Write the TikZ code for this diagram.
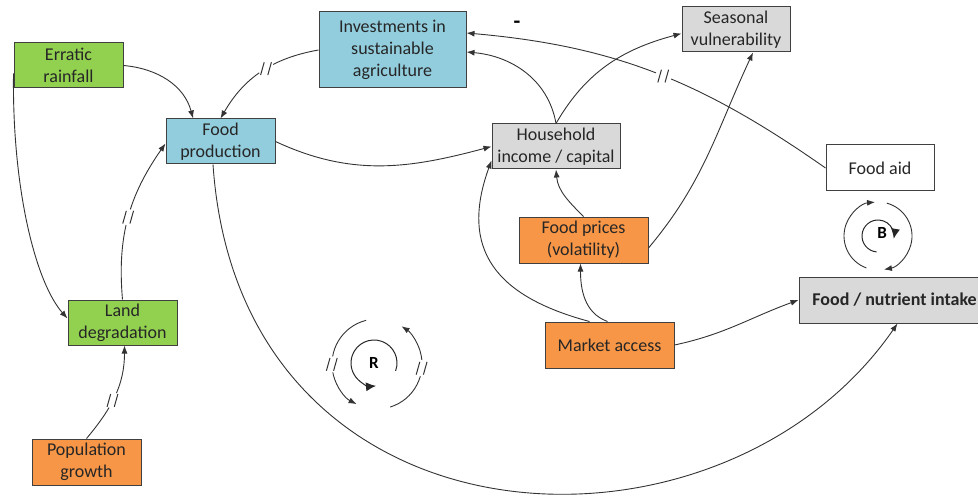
\documentclass[tikz,border=0pt]{standalone}
\usepackage{fontspec}
\setmainfont{Carlito}
\usetikzlibrary{arrows.meta,decorations.markings}
\definecolor{landgreen}{RGB}{146,208,80}
\definecolor{agriblue}{RGB}{146,205,221}
\definecolor{hhgrey}{RGB}{217,217,217}
\definecolor{mktorange}{RGB}{247,150,70}
\tikzstyle{factor}=[
	rectangle,
	draw=black!75,
	line width=0.5pt,
	align=center,
	inner sep=0pt,
	text=black!85,
	font=\fontsize{9}{11}\selectfont
]
\tikzstyle{link}=[
	-{Latex[length=4pt,width=3pt]},
	draw=black!80,
	line width=0.45pt
]
\tikzstyle{innerloop}=[
	-{Latex[length=5pt,width=4.5pt]},
	draw=black!85,
	line width=0.5pt
]
\tikzstyle{loopsign}=[
	inner sep=0pt,
	font=\fontsize{8.5}{10}\selectfont\bfseries
]
\tikzset{delay/.style={
	postaction={decorate,decoration={markings,mark=at position #1 with {
		\fill[white] (-4pt,-1pt) rectangle (4pt,1pt);
		\pgftransformresetnontranslations
		\draw[-,line width=0.5pt,black!80] (-2.8pt,-3.2pt) -- (-1pt,3.2pt) (0.8pt,-3.2pt) -- (2.6pt,3.2pt);}}}
}}

\begin{document}
\begin{tikzpicture}[x=0.5pt,y=0.5pt]
\useasboundingbox (0,0) rectangle (978,-497);
\node [factor,fill=landgreen,minimum width=54.5pt,minimum height=22.5pt] (rain) at (68.5,-65.5) {Erratic\\rainfall};
\node [factor,fill=agriblue,minimum width=73.5pt,minimum height=38pt] (invest) at (392.5,-50) {Investments in\\sustainable\\agriculture};
\node [factor,fill=agriblue,minimum width=54.5pt,minimum height=22.5pt] (prod) at (220.5,-141.5) {Food\\production};
\node [factor,fill=hhgrey,minimum width=54pt,minimum height=22.5pt] (season) at (736,-29.5) {Seasonal\\vulnerability};
\node [factor,fill=hhgrey,minimum width=64pt,minimum height=22.5pt] (income) at (556,-146.5) {Household\\income / capital};
\node [factor,fill=white,minimum width=54pt,minimum height=23pt] (aid) at (880,-168) {Food aid};
\node [factor,fill=mktorange,minimum width=64.5pt,minimum height=23pt] (prices) at (583.5,-240) {Food prices\\(volatility)};
\node [factor,fill=mktorange,minimum width=64.5pt,minimum height=23pt] (market) at (609.5,-345) {Market access};
\node [factor,fill=hhgrey,minimum width=95.5pt,minimum height=23pt,font=\fontsize{9}{11}\selectfont\bfseries] (intake) at (894.5,-300) {Food / nutrient intake};
\node [factor,fill=landgreen,minimum width=54.5pt,minimum height=22.5pt] (land) at (122.5,-322.5) {Land\\degradation};
\node [factor,fill=mktorange,minimum width=54.5pt,minimum height=23pt] (pop) at (86.5,-462) {Population\\growth};
\node [font=\fontsize{11}{12}\selectfont\bfseries] (minus) at (517,-25) {-};

\draw [link] (rain.east) to[out=-5,in=105] (prod.140);
\draw [link,delay=0.45] (invest.west) to[out=190,in=60] (prod.north);
\draw [link] ([yshift=-4pt]rain.west) .. controls (12,-190) and (36,-283) .. ([yshift=2pt]land.west);
\draw [link,delay=0.5] (land.north) to[out=95,in=-125] ([yshift=-1pt]prod.west);
\draw [link,delay=0.45] (pop.north) to[out=50,in=-90] ([xshift=1pt]land.south);
\draw [link] (prod.east) to[out=-25,in=195] (income.west);
\draw [link] ([xshift=-3.75pt]prod.south) .. controls (240,-560) and (720,-580) .. ([xshift=1.5pt]intake.south);
\draw [link] (income.north) to[out=100,in=-5] ([yshift=-1pt]invest.east);
\draw [link] (income.north) to[out=60,in=195] ([yshift=-2pt]season.west);
\draw [link,delay=0.48] (aid.west) to[out=145,in=-5] ([yshift=8.5pt]invest.east);
\draw [link] (prices.north) to[out=135,in=-85] (income.south);
\draw [link] ([yshift=-4pt]prices.east) to[out=50,in=-115] ([xshift=8.5pt]season.south);
\draw [link] ([xshift=-1pt]market.north) to[out=160,in=-90] ([xshift=-1.5pt]prices.south);
\draw [link] ([xshift=-10pt]market.north) to[out=165,in=-110,looseness=1.3] ([yshift=-7pt]income.west);
\draw [link] (market.east) to[out=12,in=200] ([yshift=0pt]intake.west);

\node [loopsign] (R) at (374,-363) {R};
\coordinate (Rc) at (377,-364);
\draw [innerloop] ([shift={(-20:23)}]R.center) arc[start angle=-20,end angle=275,radius=23];
\draw [link,delay=0.55] ([shift={(104:45)}]Rc) arc[start angle=104,end angle=243,radius=45];
\draw [link,delay=0.52] ([shift={(-73:45)}]Rc) arc[start angle=-73,end angle=57,radius=45];

\node [loopsign] (B) at (882,-233) {B};
\coordinate (Bc) at (878,-236);
\draw [innerloop] ([shift={(265:16)}]Bc) arc[start angle=265,end angle=-10,radius=16];
\draw [link] ([shift={(250:34)}]Bc) arc[start angle=250,end angle=95,radius=34];
\draw [link] ([shift={(75:34)}]Bc) arc[start angle=75,end angle=-80,radius=34];
\end{tikzpicture}
\end{document}
